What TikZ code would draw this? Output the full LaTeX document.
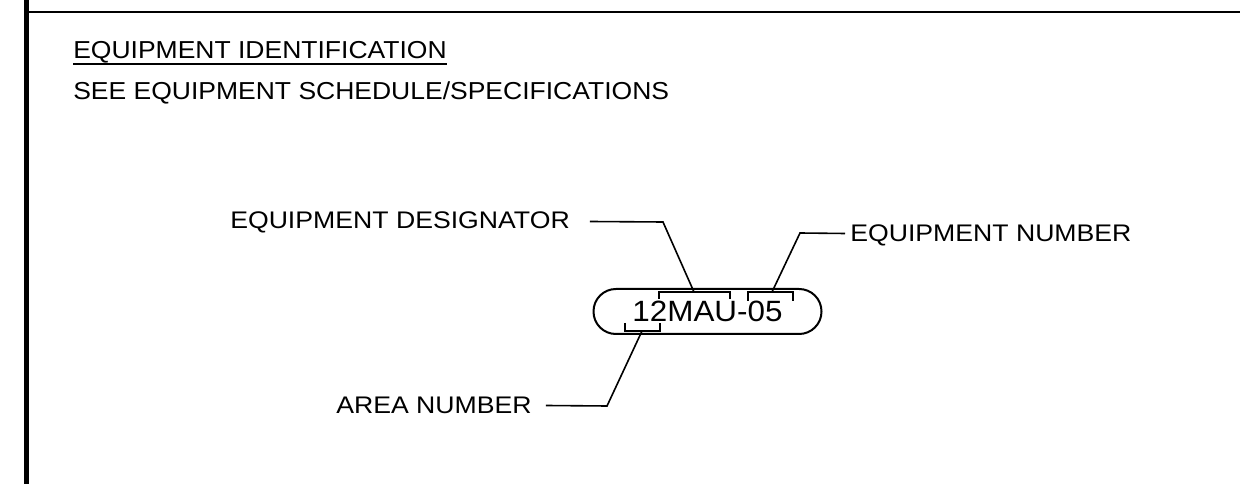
\documentclass[tikz,border=0pt]{standalone}
\usepackage{fontspec}
\newfontfamily\cadfont[FakeStretch=1.11]{Liberation Sans}
\newfontfamily\titlefont[FakeStretch=1.08]{Liberation Sans}
\newfontfamily\tagfont[FakeStretch=1.07]{Liberation Sans}
\begin{document}
\begin{tikzpicture}[x = 0.75pt, y = -0.75pt,
        every node/.style={inner sep=0pt, text depth=0pt},
        heading/.style={anchor=base west, text height=13.5pt, font=\titlefont\fontsize{18.4}{22}\selectfont},
        callout/.style={anchor=base west, text height=12.75pt, font=\cadfont\fontsize{18}{22}\selectfont},
        pill/.style={draw, line width=1.5pt, minimum width=171pt, minimum height=33.75pt,
                     rounded corners=16.8pt, text height=15.75pt, font=\tagfont\fontsize{22}{26}\selectfont},
        leader/.style={line width=1.2pt},
        every path/.style={line cap=butt}
]
    \useasboundingbox (0,0) rectangle (1240,484);
    % sheet border
    \draw[line width=3.75pt] (26.5,0) -- (26.5,484);
    \draw[line width=1.1pt] (29,12) -- (1240,12);

    \node[heading] (title) at (73,58.3) {EQUIPMENT IDENTIFICATION};
    \node[heading] (see) at (73,100) {SEE EQUIPMENT SCHEDULE/SPECIFICATIONS};
    \draw[leader] ([yshift=-3.9pt]title.south west) -- ([yshift=-3.9pt]title.south east);

    \node[pill] (tag) at (707.5,311.5) {12MAU-05};

    \node[callout] (desig) at (230,229) {EQUIPMENT DESIGNATOR};
    \node[callout] (num) at (850,242) {EQUIPMENT NUMBER};
    \node[callout] (area) at (336,414) {AREA NUMBER};

    % brackets over the parts of the tag
    \coordinate (mau) at (694,292);
    \coordinate (five) at (772,292);
    \coordinate (twelve) at (642,331);
    \draw[leader] (659,299) -- (659,292) -- (730,292) -- (730,299);
    \draw[leader] (748,301) -- (748,292) -- (793,292) -- (793,301);
    \draw[leader] (625,323) -- (625,331) -- (660,331) -- (660,323);

    % leaders
    \coordinate (dknee) at (663,222);
    \coordinate (nknee) at (800,233);
    \coordinate (aknee) at (607,406);
    \draw[leader] ([xshift=15pt,yshift=-0.75pt]desig.east) -- (dknee) -- (mau);
    \draw[leader] ([xshift=-3.75pt]num.west) -- (nknee) -- (five);
    \draw[leader] ([xshift=10.5pt]area.east) -- (aknee) -- (twelve);
\end{tikzpicture}
\end{document}
